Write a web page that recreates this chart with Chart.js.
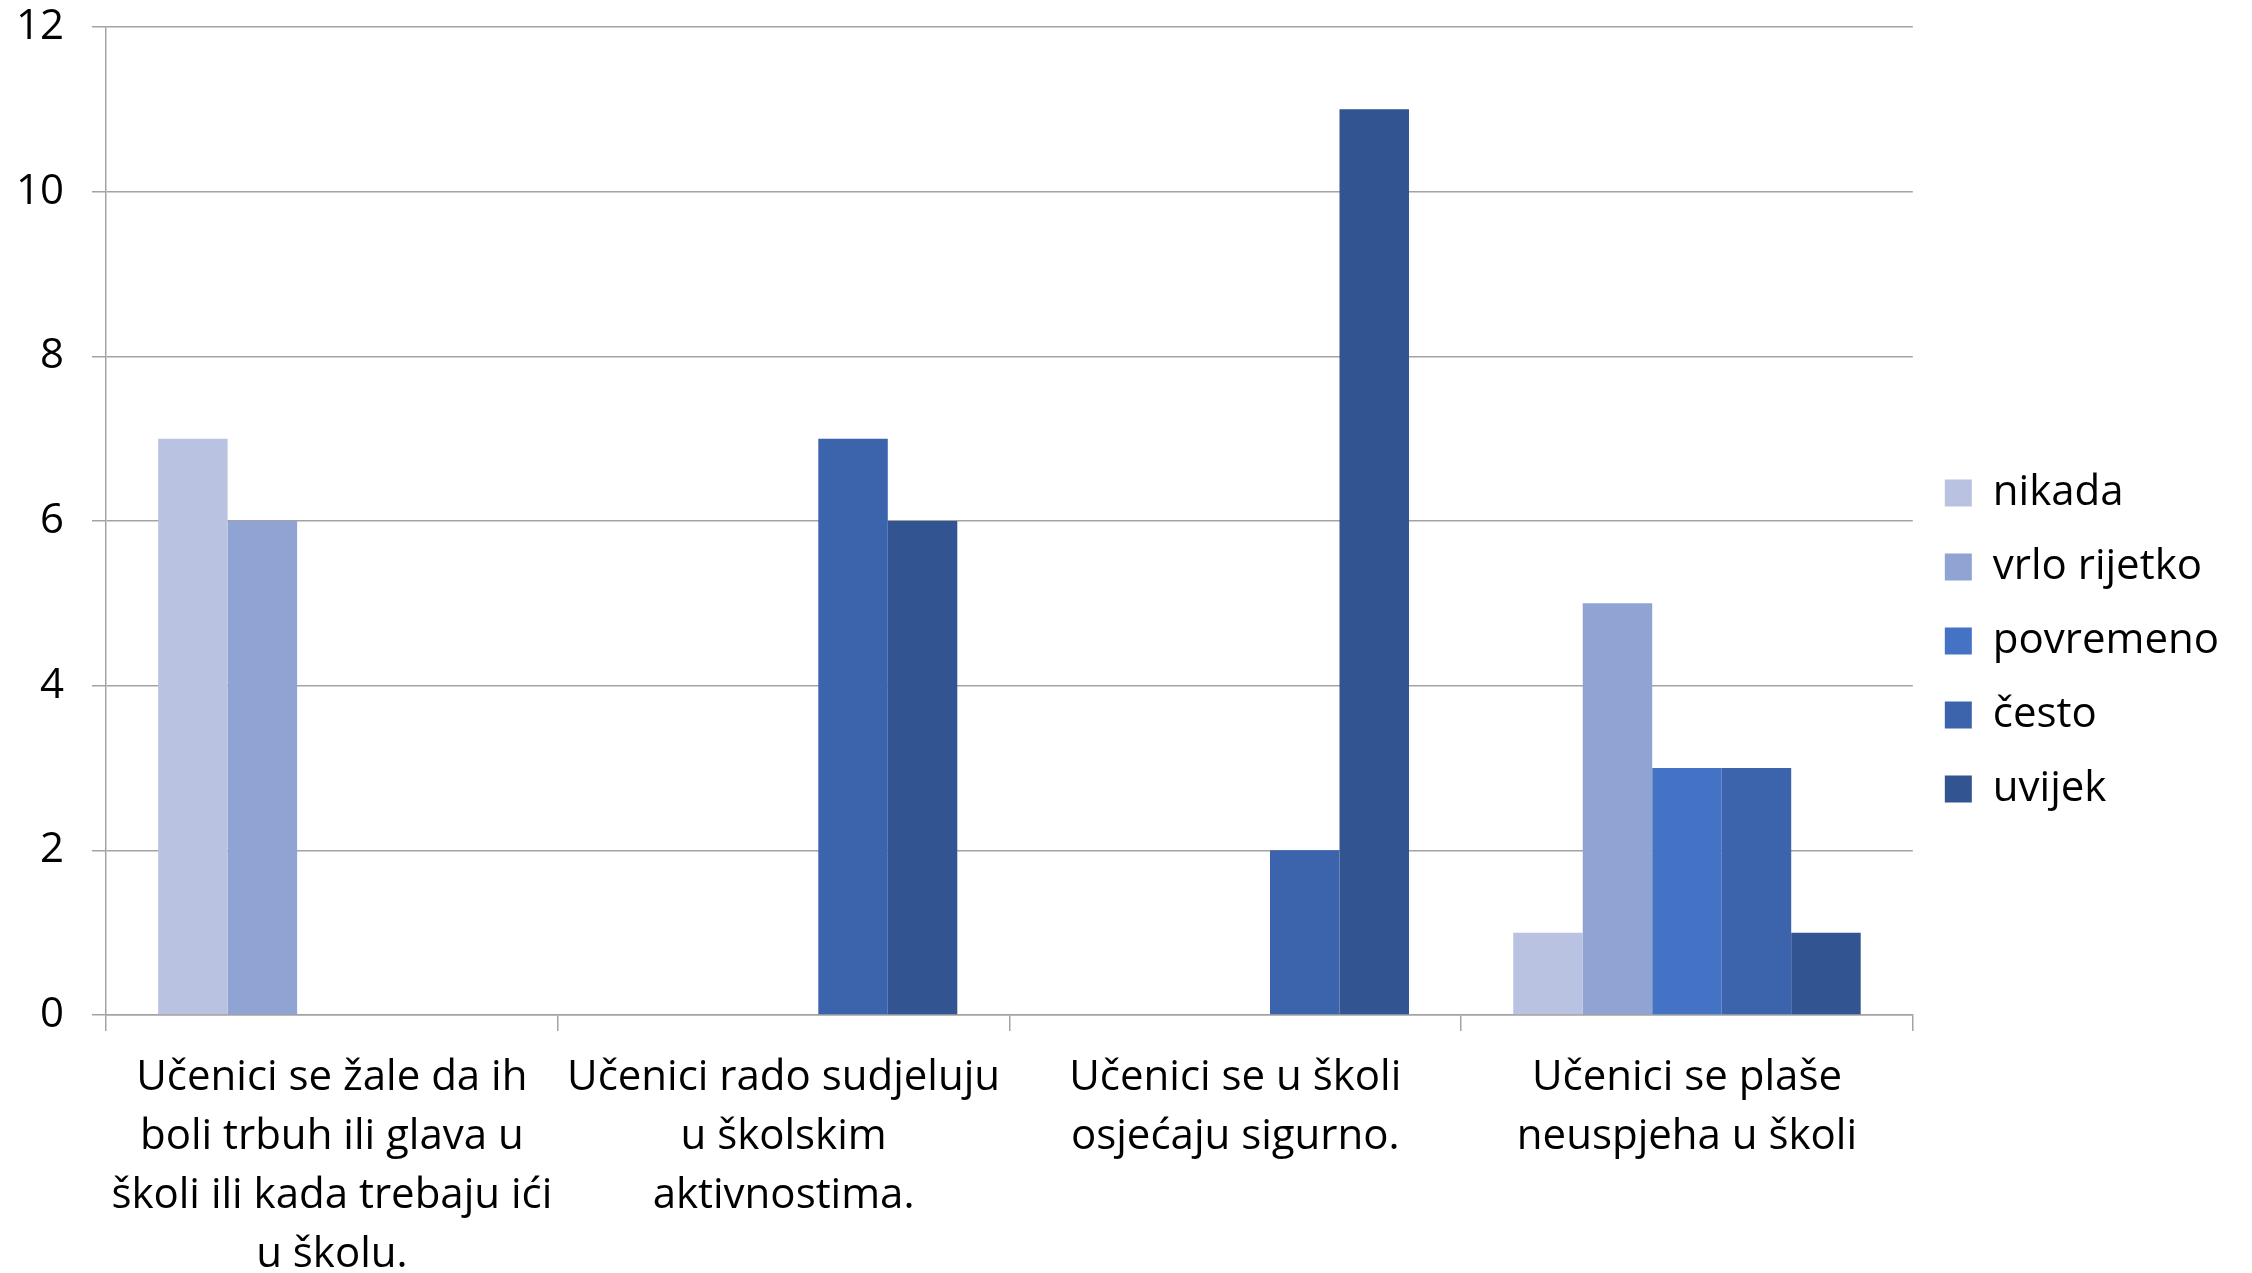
<!DOCTYPE html>
<html>
<head>
<meta charset="utf-8">
<script src="https://cdn.jsdelivr.net/npm/chart.js@4/dist/chart.umd.min.js"></script>
<style>
html,body{margin:0;padding:0;background:#fff;}
#wrap{width:2252px;height:1273px;position:relative;}
</style>
</head>
<body>
<div id="wrap"><canvas id="c" width="2252" height="1273"></canvas></div>
<script>
const categories = [
  ["Učenici se žale da ih", "boli trbuh ili glava u", "školi ili kada trebaju ići", "u školu."],
  ["Učenici rado sudjeluju", "u školskim", "aktivnostima."],
  ["Učenici se u školi", "osjećaju sigurno."],
  ["Učenici se plaše", "neuspjeha u školi"]
];
const seriesNames = ["nikada", "vrlo rijetko", "povremeno", "često", "uvijek"];
const nikada = [7, 0, 0, 1];
const vrloRijetko = [6, 0, 0, 5];
const povremeno = [0, 0, 0, 3];
const cesto = [0, 7, 2, 3];
const uvijek = [0, 6, 11, 1];
const seriesColors = ["#B9C3E1", "#90A4D4", "#4472C4", "#3C64AC", "#325592"];
const yTicks = [0, 2, 4, 6, 8, 10, 12];

const seriesValues = [nikada, vrloRijetko, povremeno, cesto, uvijek];
const FONT = "'Open Sans', Lato, sans-serif";
const GRID = "#a3a3a3";

new Chart(document.getElementById('c'), {
  type: 'bar',
  data: {
    labels: categories,
    datasets: seriesNames.map((n, i) => ({
      label: n,
      data: seriesValues[i],
      backgroundColor: seriesColors[i],
      borderWidth: 0,
      categoryPercentage: 1 / 1.3,
      barPercentage: 1.0
    }))
  },
  options: {
    responsive: false,
    animation: false,
    layout: { padding: { top: 9, left: 0, right: 23, bottom: 0 } },
    plugins: {
      legend: {
        position: 'right',
        align: 'center',
        labels: {
          font: { family: FONT, size: 42 },
          color: '#000',
          boxWidth: 27,
          boxHeight: 27,
          padding: 32
        }
      },
      tooltip: { enabled: false }
    },
    scales: {
      x: {
        offset: true,
        grid: {
          display: true,
          offset: true,
          drawOnChartArea: false,
          drawTicks: true,
          tickLength: 16,
          color: GRID,
          lineWidth: 1.5
        },
        border: { display: true, color: GRID, width: 1.5 },
        ticks: {
          font: { family: FONT, size: 42, lineHeight: 1.4 },
          color: '#000',
          autoSkip: false,
          maxRotation: 0,
          minRotation: 0,
          padding: 18
        },
        afterFit: (s) => { s.height = 258; s.paddingLeft = 0; s.paddingRight = 0; }
      },
      y: {
        min: 0,
        max: 12,
        afterBuildTicks: (s) => { s.ticks = yTicks.map(v => ({ value: v })); },
        grid: {
          color: GRID,
          lineWidth: 1.5,
          drawTicks: true,
          tickLength: 14
        },
        border: { display: true, color: GRID, width: 1.5 },
        ticks: {
          font: { family: FONT, size: 42 },
          color: '#000',
          padding: 28
        },
        afterFit: (s) => { s.width = 106; s.paddingTop = 27; s.paddingBottom = 0; }
      }
    }
  }
});
</script>
</body>
</html>
